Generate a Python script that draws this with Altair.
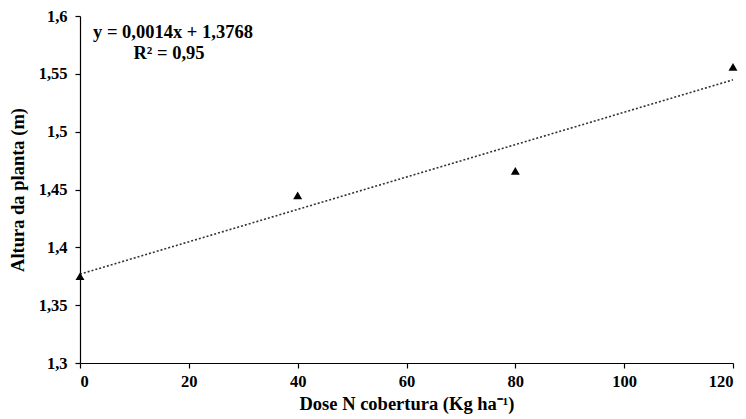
import altair as alt
import pandas as pd

dose = [0, 40, 80, 120]
altura = [1.375, 1.445, 1.466, 1.556]
slope = 0.0014
intercept = 1.3768
eq_lines = ["y = 0,0014x + 1,3768", "R² = 0,95"]

pts = pd.DataFrame({"x": dose, "y": altura})
trend = pd.DataFrame({"x": [dose[0], dose[-1]],
                      "y": [intercept + slope * dose[0], intercept + slope * dose[-1]]})
eq = pd.DataFrame({"t": eq_lines, "row": [0, 1]})

FONT = "Liberation Serif"

xscale = alt.Scale(domain=[0, 120], nice=False, zero=False)
yscale = alt.Scale(domain=[1.3, 1.6], nice=False, zero=False)

xaxis = alt.Axis(values=[0, 20, 40, 60, 80, 100, 120], title="Dose N cobertura (Kg ha⁻¹)",
                 grid=False, tickSize=5, labelPadding=5, titlePadding=5, titleFontSize=18.5)
yaxis = alt.Axis(values=[1.3, 1.35, 1.4, 1.45, 1.5, 1.55, 1.6], title="Altura da planta (m)",
                 grid=False, tickSize=5, labelPadding=8, titlePadding=11, titleFontSize=18.5,
                 labelExpr="replace(format(datum.value, '.2~f'), '.', ',')")

line = alt.Chart(trend).mark_line(color="#333333", strokeWidth=1.6, strokeDash=[2, 2]).encode(
    x=alt.X("x:Q", scale=xscale, axis=xaxis),
    y=alt.Y("y:Q", scale=yscale, axis=yaxis),
)
points = alt.Chart(pts).mark_point(shape="triangle-up", filled=True, color="black", size=80, opacity=1).encode(
    x=alt.X("x:Q", scale=xscale),
    y=alt.Y("y:Q", scale=yscale),
)
txt1 = alt.Chart(eq).transform_filter("datum.row == 0").mark_text(
    font=FONT, fontWeight="bold", fontSize=18.5, color="black", align="center", baseline="middle"
).encode(text="t:N", x=alt.value(93), y=alt.value(16))
txt2 = alt.Chart(eq).transform_filter("datum.row == 1").mark_text(
    font=FONT, fontWeight="bold", fontSize=18.5, color="black", align="center", baseline="middle"
).encode(text="t:N", x=alt.value(89), y=alt.value(37))

chart = alt.layer(line, points, txt1, txt2).properties(
    width=653, height=347,
    padding={"left": 80, "top": 16, "right": 13, "bottom": 56},
    autosize=alt.AutoSizeParams(type="none"),
    background="white",
).configure_view(stroke=None).configure_axis(
    domainColor="black", tickColor="black", labelColor="black", titleColor="black",
    labelFont=FONT, titleFont=FONT, labelFontWeight="bold", titleFontWeight="bold",
    labelFontSize=16.5, domainWidth=1.2, tickWidth=1.2,
)

chart.save("out.html", embed_options={"renderer": "svg", "actions": False})
